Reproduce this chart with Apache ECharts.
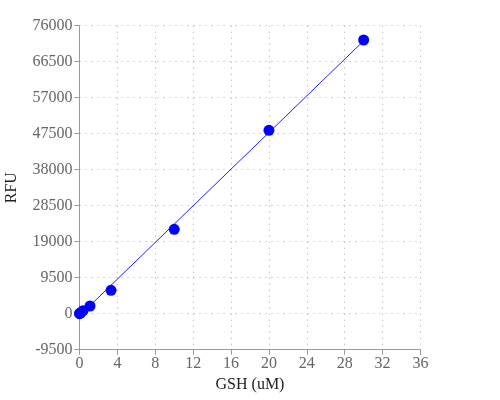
<!DOCTYPE html>
<html>
<head>
<meta charset="utf-8">
<script src="https://cdn.jsdelivr.net/npm/echarts@6/dist/echarts.min.js"></script>
<style>
  html, body { margin: 0; padding: 0; background: #fff; }
  #chart { width: 500px; height: 400px; }
</style>
</head>
<body>
<div id="chart"></div>
<script>
// measured points (GSH uM vs RFU)
var gsh = [0, 0.041, 0.123, 0.37, 1.11, 3.33, 10, 20, 30];
var rfu = [0, 80, 250, 800, 2030, 6175, 22270, 48400, 72230];

// fitted line ends
var fitX = [0, 30];
var fitY = [-540, 72000];

function pairs(xs, ys) {
    var arr = [];
    for (var i = 0; i < xs.length; i++) {
        arr.push([xs[i], ys[i]]);
    }
    return arr;
}

var myChart = echarts.init(document.getElementById('chart'));
var font = 'Liberation Serif';
option = {
    animation: false,
    grid: {
        left: 79.5,
        right: 79.5,
        top: 25.7,
        bottom: 50.3,
        containLabel: false,
        outerBoundsMode: 'none'
    },
    xAxis: {
        type: 'value',
        min: 0,
        max: 36,
        interval: 4,
        name: 'GSH (uM)',
        nameLocation: 'middle',
        nameGap: 26,
        nameTextStyle: { fontFamily: font, fontSize: 16, color: '#222' },
        axisLine: { onZero: false, lineStyle: { color: '#999' } },
        axisTick: { length: 5, lineStyle: { color: '#999' } },
        axisLabel: { fontFamily: font, fontSize: 16, color: '#666', margin: 6 },
        splitLine: { lineStyle: { type: [1, 5], color: '#aaa' } }
    },
    yAxis: {
        type: 'value',
        min: -9500,
        max: 76000,
        interval: 9500,
        name: 'RFU',
        nameLocation: 'middle',
        nameGap: 60,
        nameTextStyle: { fontFamily: font, fontSize: 16, color: '#222' },
        axisLine: { show: true, lineStyle: { color: '#999' } },
        axisTick: { show: true, length: 5, lineStyle: { color: '#999' } },
        axisLabel: {
            fontFamily: font, fontSize: 16, color: '#666', margin: 7,
            formatter: function (v) { return String(v); }
        },
        splitLine: { lineStyle: { type: [1, 5], color: '#aaa' } }
    },
    series: [
        {
            type: 'line',
            data: pairs(fitX, fitY),
            symbol: 'none',
            lineStyle: { color: '#2020ff', width: 1 },
            z: 2
        },
        {
            type: 'scatter',
            data: pairs(gsh, rfu),
            symbolSize: 11,
            itemStyle: { color: '#0000ff', opacity: 1 },
            z: 3
        }
    ]
};
myChart.setOption(option, true);
</script>
</body>
</html>
